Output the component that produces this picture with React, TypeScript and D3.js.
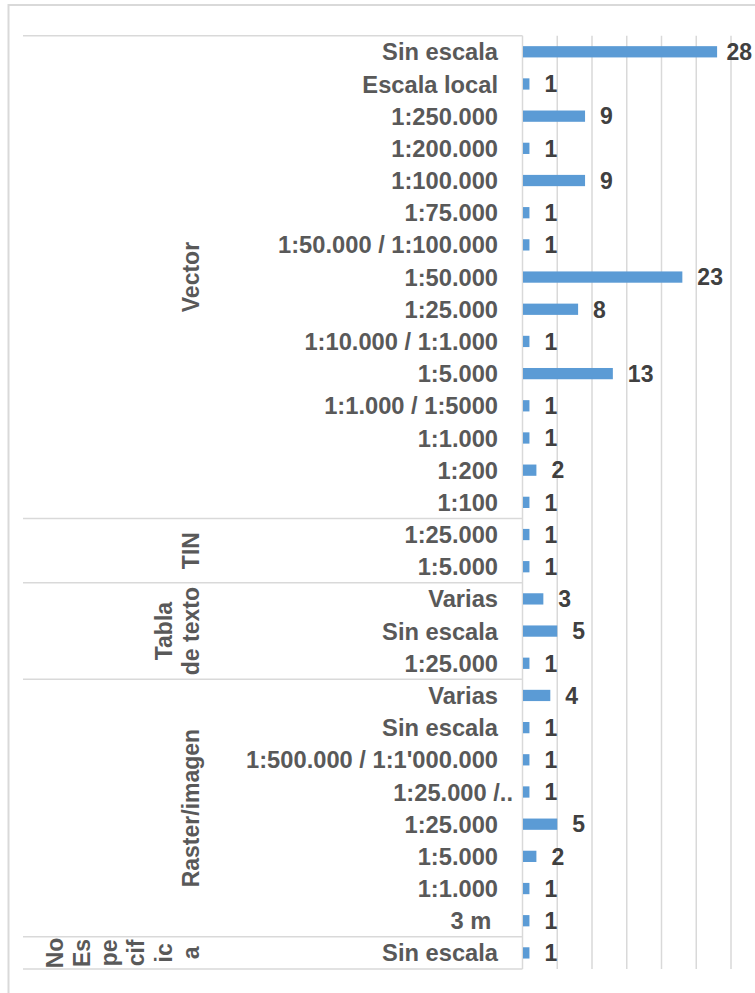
import React, { useEffect, useRef } from "react";
import * as d3 from "d3";

const groups = ["Vector", "TIN", "Tabla de texto", "Raster/imagen", "No Especifica"];
const groupLines = [["Vector"], ["TIN"], ["Tabla", "de texto"], ["Raster/imagen"], ["No", "Es", "pe", "cif", "ic", "a"]];
const groupCounts = [15, 2, 3, 8, 1];

const categories = [
  "Sin escala", "Escala local", "1:250.000", "1:200.000", "1:100.000", "1:75.000",
  "1:50.000 / 1:100.000", "1:50.000", "1:25.000", "1:10.000 / 1:1.000", "1:5.000",
  "1:1.000 / 1:5000", "1:1.000", "1:200", "1:100",
  "1:25.000", "1:5.000",
  "Varias", "Sin escala", "1:25.000",
  "Varias", "Sin escala", "1:500.000 / 1:1'000.000", "1:25.000 /..", "1:25.000", "1:5.000", "1:1.000", "3 m ",
  "Sin escala",
];
const values = [28, 1, 9, 1, 9, 1, 1, 23, 8, 1, 13, 1, 1, 2, 1, 1, 1, 3, 5, 1, 4, 1, 1, 1, 5, 2, 1, 1, 1];
const xTicks = [0, 5, 10, 15, 20, 25, 30, 35];

const W = 755;
const H = 993;

export default function App() {
  const ref = useRef<SVGSVGElement>(null);
  useEffect(() => {
    const svg = d3.select(ref.current);
    svg.selectAll("*").remove();
    const font = "'Liberation Sans', Arial, sans-serif";
    const top = 35.7, bottom = 969;
    const axisX = 522.5;
    const x = d3.scaleLinear().domain([0, 35]).range([axisX, axisX + 35 * 6.95]);
    const y = d3.scaleBand<number>().domain(d3.range(categories.length)).range([top, bottom]).paddingInner(0.65).paddingOuter(0.325);
    const band = (bottom - top) / categories.length;
    const rowCenter = (i: number) => top + band * (i + 0.5);

    // chart border
    svg.append("rect").attr("x", 8.5).attr("y", 5).attr("width", 800).attr("height", 1000)
      .attr("fill", "#fff").attr("stroke", "#D9D9D9").attr("stroke-width", 2);

    // gridlines
    svg.append("g").selectAll("line").data(xTicks.slice(1)).join("line")
      .attr("x1", d => x(d)).attr("x2", d => x(d)).attr("y1", top).attr("y2", bottom)
      .attr("stroke", "#D9D9D9").attr("stroke-width", 1.5);

    // group boundaries
    const bounds = [0, ...d3.cumsum(groupCounts)];
    svg.append("g").selectAll("line").data(bounds).join("line")
      .attr("x1", 23).attr("x2", axisX).attr("y1", d => top + band * d).attr("y2", d => top + band * d)
      .attr("stroke", "#D9D9D9").attr("stroke-width", 1.5);
    // axis line
    svg.append("line").attr("x1", axisX).attr("x2", axisX).attr("y1", top).attr("y2", bottom)
      .attr("stroke", "#D9D9D9").attr("stroke-width", 1.5);

    // bars
    svg.append("g").selectAll("rect").data(values).join("rect")
      .attr("x", x(0) + 0.5).attr("y", (_, i) => y(i)!).attr("width", d => x(d) - x(0) - 0.5)
      .attr("height", y.bandwidth()).attr("fill", "#5B9BD5");

    // category labels
    svg.append("g").selectAll("text").data(categories).join("text")
      .attr("x", d => (d.endsWith("..") ? 513 : 498)).attr("y", (_, i) => rowCenter(i))
      .attr("dy", "0.36em").attr("text-anchor", "end")
      .style("white-space", "pre")
      .attr("font-family", font).attr("font-weight", "bold").attr("font-size", 23.7).attr("fill", "#595959")
      .text(d => d);

    // value labels
    const vl = svg.append("g").selectAll("text").data(values).join("text")
      .attr("x", d => x(d) + 15).attr("y", (_, i) => rowCenter(i))
      .attr("dy", "0.36em").attr("text-anchor", "start")
      .attr("font-family", font).attr("font-weight", "bold").attr("font-size", 23).attr("fill", "#404040")
      .text(d => String(d));
    vl.each(function (d) {
      const el = this as SVGTextElement;
      const w = el.getComputedTextLength();
      const x0 = x(d) + 15;
      if (x0 + w > 752) d3.select(el).attr("x", 752 - w);
    });

    // group labels
    groups.forEach((g, gi) => {
      const cy = top + band * (bounds[gi] + groupCounts[gi] / 2);
      const lines = groupLines[gi];
      const n = lines.length;
      const gg = svg.append("g").attr("transform", `translate(0,${cy}) rotate(-90)`);
      lines.forEach((ln, li) => {
        gg.append("text").attr("x", 0).attr("y", 199 - (n - 1 - li) * 27.3)
          .attr("text-anchor", "middle")
          .attr("font-family", font).attr("font-weight", "bold").attr("font-size", 23).attr("fill", "#595959")
          .text(ln);
      });
    });
  }, []);
  return (
    <svg ref={ref} width={W} height={H} style={{ position: "absolute", left: 0, top: 0, background: "#fff" }} />
  );
}
